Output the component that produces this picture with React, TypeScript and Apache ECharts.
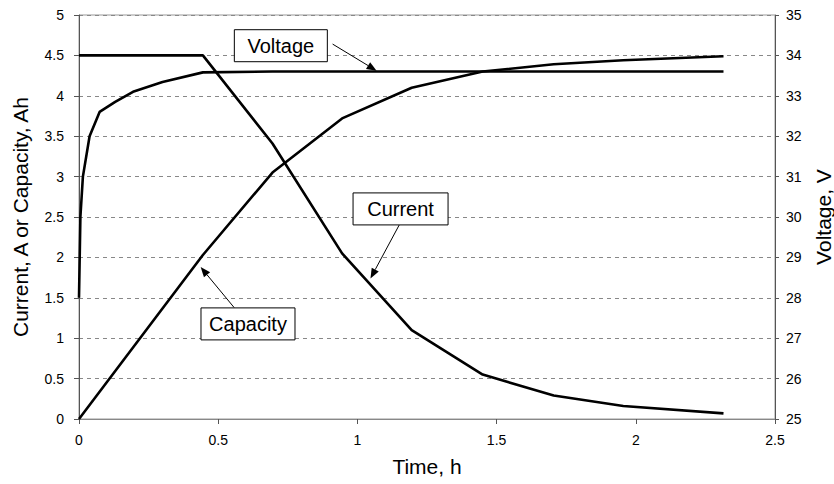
import React, { useEffect, useRef } from "react";
import * as echarts from "echarts";

const timeH = [0, 0.445, 0.695, 0.945, 1.195, 1.45, 1.705, 1.955, 2.315];
const currentA = [4.5, 4.5, 3.41, 2.05, 1.1, 0.55, 0.29, 0.16, 0.07];
const capacityAh = [0, 2.03, 3.05, 3.72, 4.1, 4.3, 4.39, 4.44, 4.49];

const voltageTime = [0, 0.005, 0.014, 0.038, 0.074, 0.13, 0.194, 0.3, 0.445, 0.695, 0.945, 1.195, 1.45, 1.705, 1.955, 2.315];
const voltageV = [28.0, 30.0, 31.0, 32.0, 32.6, 32.85, 33.1, 33.34, 33.58, 33.6, 33.6, 33.6, 33.6, 33.6, 33.6, 33.6];

const xTicks = { min: 0, max: 2.5, step: 0.5 };
const leftTicks = { min: 0, max: 5, step: 0.5 };
const rightTicks = { min: 25, max: 35, step: 1 };

// annotations: box centre, arrow start and arrow tip in data coordinates (left axis)
const annotations = [
  { label: "Voltage", box: [0.725, 4.62], from: [0.911, 4.64], to: [1.069, 4.31], w: 93 },
  { label: "Current", box: [1.155, 2.6], from: [1.15, 2.4], to: [1.047, 1.74], w: 95 },
  { label: "Capacity", box: [0.607, 1.177], from: [0.557, 1.38], to: [0.437, 1.88], w: 94 },
];

const FONT = "'Liberation Sans', Arial, sans-serif";

export default function App() {
  const ref = useRef<HTMLDivElement>(null);
  useEffect(() => {
    if (!ref.current) return;
    const chart = echarts.init(ref.current, null, { renderer: "svg", width: 834, height: 484 });
    const lineStyle = { color: "#000", width: 2.6 };
    chart.setOption({
      animation: false,
      backgroundColor: "#fff",
      grid: {
        left: 79,
        right: 59,
        top: 15,
        bottom: 65,
        containLabel: false,
        outerBoundsMode: "none",
        show: true,
        borderColor: "#999",
        borderWidth: 1,
      },
      xAxis: {
        type: "value",
        min: xTicks.min,
        max: xTicks.max,
        interval: xTicks.step,
        name: "Time, h",
        nameLocation: "middle",
        nameGap: 37,
        nameTextStyle: { fontFamily: FONT, fontSize: 21, color: "#000" },
        axisLine: { show: true, lineStyle: { color: "#888", width: 1 } },
        axisTick: { show: true, length: 5, lineStyle: { color: "#555" } },
        axisLabel: { fontFamily: FONT, fontSize: 14, color: "#000", margin: 14 },
        splitLine: { show: false },
      },
      yAxis: [
        {
          type: "value",
          min: leftTicks.min,
          max: leftTicks.max,
          interval: leftTicks.step,
          name: "Current, A or Capacity, Ah",
          nameLocation: "middle",
          nameGap: 48,
          nameRotate: 90,
          nameTextStyle: { fontFamily: FONT, fontSize: 21, color: "#000" },
          axisLine: { show: true, lineStyle: { color: "#555", width: 1 } },
          axisTick: { show: true, length: 5, lineStyle: { color: "#555" } },
          axisLabel: { fontFamily: FONT, fontSize: 14, color: "#000", margin: 15 },
          splitLine: { show: true, lineStyle: { color: "#888", type: [4, 4], width: 1 } },
        },
        {
          type: "value",
          position: "right",
          min: rightTicks.min,
          max: rightTicks.max,
          interval: rightTicks.step,
          name: "Voltage, V",
          nameLocation: "middle",
          nameGap: 38,
          nameRotate: 90,
          nameTextStyle: { fontFamily: FONT, fontSize: 21, color: "#000" },
          axisLine: { show: true, lineStyle: { color: "#555", width: 1 } },
          axisTick: { show: true, length: 4, lineStyle: { color: "#555" } },
          axisLabel: { fontFamily: FONT, fontSize: 14, color: "#000", margin: 11 },
          splitLine: { show: false },
        },
      ],
      series: [
        {
          name: "Current",
          type: "line",
          yAxisIndex: 0,
          showSymbol: false,
          symbol: "none",
          lineStyle,
          data: timeH.map((t, i) => [t, currentA[i]]),
          z: 3,
        },
        {
          name: "Capacity",
          type: "line",
          yAxisIndex: 0,
          showSymbol: false,
          symbol: "none",
          lineStyle,
          data: timeH.map((t, i) => [t, capacityAh[i]]),
          z: 3,
        },
        {
          name: "Voltage",
          type: "line",
          yAxisIndex: 1,
          showSymbol: false,
          symbol: "none",
          lineStyle,
          data: voltageTime.map((t, i) => [t, voltageV[i]]),
          z: 3,
        },
      ],
    });

    const toPx = (p: number[]) =>
      chart.convertToPixel({ xAxisIndex: 0, yAxisIndex: 0 }, p) as number[];
    const elements: any[] = [];
    annotations.forEach((a) => {
      const c = toPx(a.box);
      const s = toPx(a.from);
      const t = toPx(a.to);
      const h = 32;
      const dx = t[0] - s[0];
      const dy = t[1] - s[1];
      const len = Math.sqrt(dx * dx + dy * dy);
      const ux = dx / len;
      const uy = dy / len;
      const headL = 10;
      const headW = 4;
      const bx = t[0] - ux * headL;
      const by = t[1] - uy * headL;
      elements.push({
        type: "line",
        shape: { x1: s[0], y1: s[1], x2: bx, y2: by },
        style: { stroke: "#000", lineWidth: 1 },
        z: 100,
      });
      elements.push({
        type: "polygon",
        shape: {
          points: [
            [t[0], t[1]],
            [bx - uy * headW, by + ux * headW],
            [bx + uy * headW, by - ux * headW],
          ],
        },
        style: { fill: "#000" },
        z: 100,
      });
      elements.push({
        type: "rect",
        shape: { x: c[0] - a.w / 2, y: c[1] - h / 2, width: a.w, height: h },
        style: { fill: "#fff", stroke: "#000", lineWidth: 1 },
        z: 101,
      });
      elements.push({
        type: "text",
        x: c[0],
        y: c[1],
        style: {
          text: a.label,
          fontFamily: FONT,
          fontSize: 20,
          fill: "#000",
          align: "center",
          verticalAlign: "middle",
        },
        z: 102,
      });
    });
    chart.setOption({ graphic: elements });

    return () => chart.dispose();
  }, []);
  return (
    <div
      ref={ref}
      style={{ position: "absolute", left: 0, top: 0, width: 834, height: 484 }}
    />
  );
}
